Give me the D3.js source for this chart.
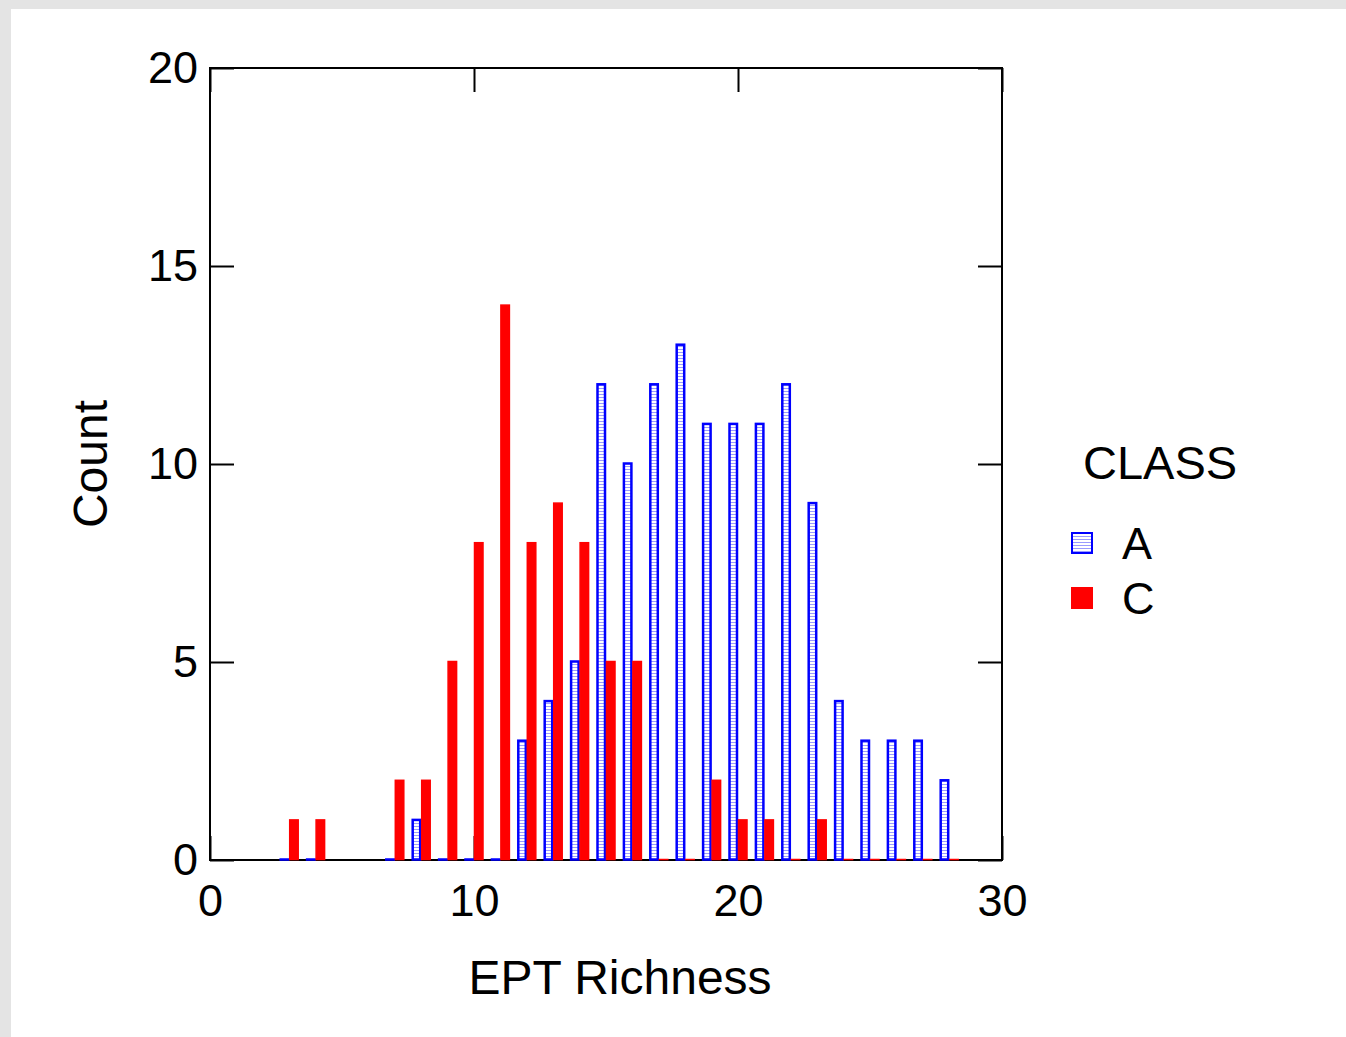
<!DOCTYPE html>
<html>
<head>
<meta charset="utf-8">
<script src="https://cdn.jsdelivr.net/npm/d3@7"></script>
<style>
  html, body { margin: 0; padding: 0; background: #e4e4e4; }
  #chart { position: absolute; left: 11px; top: 9px; }
  text { font-family: "Liberation Sans", Arial, sans-serif; fill: #000; }
</style>
</head>
<body>
<div id="chart"></div>
<script>
// EPT richness values (x), with counts per class
var richness = [3, 4, 7, 8, 9, 10, 11, 12, 13, 14, 15, 16, 17, 18, 19, 20, 21, 22, 23, 24, 25, 26, 27, 28];
var countA   = [0, 0, 0, 1, 0, 0, 0, 3, 4, 5, 12, 10, 12, 13, 11, 11, 11, 12, 9, 4, 3, 3, 3, 2];
var countC   = [1, 1, 2, 2, 5, 8, 14, 8, 9, 8, 5, 5, 0, 0, 2, 1, 1, 0, 1, 0, 0, 0, 0, 0];
var classes  = ['A', 'C'];
var xTicks   = [0, 10, 20, 30];
var yTicks   = [0, 5, 10, 15, 20];

(function() {
  var W = 1335, H = 1028;
  var ox = 11, oy = 9; // offset of white panel
  var pLeft = 210 - ox, pRight = 1002 - ox, pTop = 68 - oy, pBottom = 860 - oy;
  var fs = 45;

  var svg = d3.select('#chart').append('svg')
    .attr('width', W)
    .attr('height', H);

  svg.append('rect').attr('width', W).attr('height', H).attr('fill', '#fff');

  var defs = svg.append('defs');
  var pat = defs.append('pattern')
    .attr('id', 'hatch')
    .attr('patternUnits', 'userSpaceOnUse')
    .attr('width', 6).attr('height', 3);
  pat.append('rect').attr('width', 6).attr('height', 3).attr('fill', '#fff');
  pat.append('line')
    .attr('x1', 0).attr('x2', 6).attr('y1', 1.5).attr('y2', 1.5)
    .attr('stroke', '#9a9aff').attr('stroke-width', 1);

  var x = d3.scaleLinear().domain([0, 30]).range([pLeft, pRight]);
  var y = d3.scaleLinear().domain([0, 20]).range([pBottom, pTop]);
  var bw = x(0.36) - x(0);

  function barH(v) {
    return Math.max(y(0) - y(v), 0.01);
  }

  function styleAxis(g) {
    g.select('.domain').remove();
    g.selectAll('line').attr('stroke', '#000').attr('stroke-width', 2);
    g.selectAll('text').style('font-size', fs + 'px')
      .style('font-family', '"Liberation Sans", Arial, sans-serif');
  }

  svg.append('g').attr('transform', 'translate(0,' + pBottom + ')')
    .call(d3.axisBottom(x).tickValues(xTicks).tickSize(-24).tickPadding(24).tickSizeOuter(0))
    .call(styleAxis);
  svg.append('g').attr('transform', 'translate(0,' + pTop + ')')
    .call(d3.axisTop(x).tickValues(xTicks).tickSize(-24).tickFormat('').tickSizeOuter(0))
    .call(styleAxis);
  svg.append('g').attr('transform', 'translate(' + pLeft + ',0)')
    .call(d3.axisLeft(y).tickValues(yTicks).tickSize(-24).tickPadding(12).tickSizeOuter(0))
    .call(styleAxis);
  svg.append('g').attr('transform', 'translate(' + pRight + ',0)')
    .call(d3.axisRight(y).tickValues(yTicks).tickSize(-24).tickFormat('').tickSizeOuter(0))
    .call(styleAxis);

  svg.append('rect')
    .attr('x', pLeft).attr('y', pTop)
    .attr('width', pRight - pLeft).attr('height', pBottom - pTop)
    .attr('fill', 'none').attr('stroke', '#000').attr('stroke-width', 2);

  // class A bars (left of value)
  svg.append('g').selectAll('rect')
    .data(richness)
    .enter().append('rect')
    .attr('x', function(d) { return x(d) - bw + 1; })
    .attr('y', function(d, i) { return y(countA[i]) - 0.5; })
    .attr('width', bw - 2)
    .attr('height', function(d, i) { return barH(countA[i]); })
    .attr('fill', 'url(#hatch)')
    .attr('stroke', '#0000ff')
    .attr('stroke-width', 2.5);

  // class C bars (right of value)
  svg.append('g').selectAll('rect')
    .data(richness)
    .enter().append('rect')
    .attr('x', function(d) { return x(d) + 0.5; })
    .attr('y', function(d, i) { return y(countC[i]) - 0.5; })
    .attr('width', bw - 1)
    .attr('height', function(d, i) { return barH(countC[i]); })
    .attr('fill', '#f00')
    .attr('stroke', '#f00')
    .attr('stroke-width', 1.5);

  svg.append('text')
    .attr('x', 620 - ox).attr('y', 994 - oy)
    .attr('text-anchor', 'middle')
    .style('font-size', '48px')
    .text('EPT Richness');

  svg.append('text')
    .attr('transform', 'translate(' + (107 - ox) + ',' + (464 - oy) + ') rotate(-90)')
    .attr('text-anchor', 'middle')
    .style('font-size', '48px')
    .text('Count');

  // legend
  var lg = svg.append('g');
  lg.append('text')
    .attr('x', 1083 - ox).attr('y', 479 - oy)
    .style('font-size', '47px')
    .text('CLASS');
  var items = lg.selectAll('g.item')
    .data(classes)
    .enter().append('g')
    .attr('class', 'item')
    .attr('transform', function(d, i) { return 'translate(' + (1071 - ox) + ',' + (532 - oy + i * 55) + ')'; });
  items.append('rect')
    .attr('x', 1).attr('y', 1)
    .attr('width', 20).attr('height', 20)
    .attr('fill', function(d) { return d === 'A' ? 'url(#hatch)' : '#f00'; })
    .attr('stroke', function(d) { return d === 'A' ? '#0000ff' : '#f00'; })
    .attr('stroke-width', 2);
  items.append('text')
    .attr('x', 51).attr('y', 27)
    .style('font-size', fs + 'px')
    .text(function(d) { return d; });
})();
</script>
</body>
</html>
